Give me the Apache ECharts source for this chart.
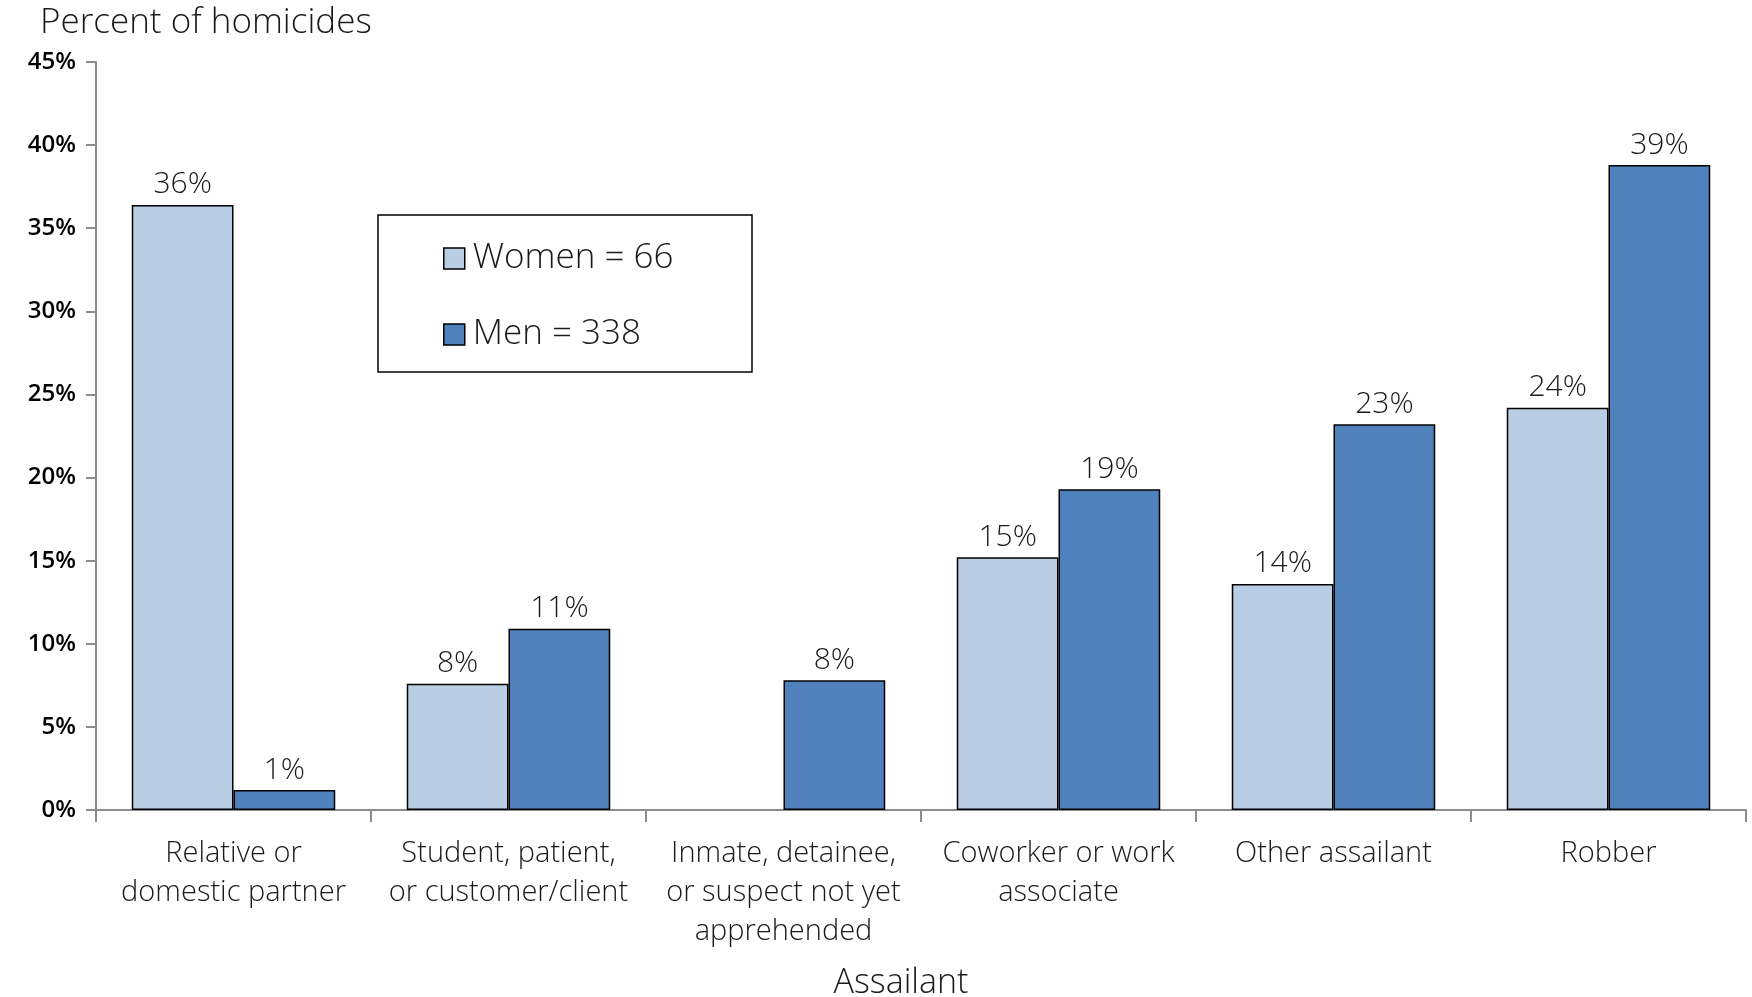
<!DOCTYPE html>
<html>
<head>
<meta charset="utf-8">
<title>Homicides by assailant</title>
<script src="https://cdn.jsdelivr.net/npm/echarts@6/dist/echarts.min.js"></script>
<style>
  html, body { margin: 0; padding: 0; background: #fff; }
  #chart { width: 1752px; height: 997px; }
</style>
</head>
<body>
<div id="chart"></div>
<script>
// Assailant categories (x axis)
const categories = [
  'Relative or\ndomestic partner',
  'Student, patient,\nor customer/client',
  'Inmate, detainee,\nor suspect not yet\napprehended',
  'Coworker or work\nassociate',
  'Other assailant',
  'Robber'
];

// Percent of homicides by assailant type
const womenValues = [36.4, 7.6, null, 15.2, 13.6, 24.2];
const menValues = [1.2, 10.9, 7.8, 19.3, 23.2, 38.8];

// Series names shown in the legend
const womenName = 'Women = 66';
const menName = 'Men = 338';

// Y axis ticks
const yTicks = [0, 5, 10, 15, 20, 25, 30, 35, 40, 45];

const lightFont = '"Open Sans", Lato, "Noto Sans", sans-serif';
const textColor = '#1a1a1a';
const axisGray = '#8c8c8c';

const chart = echarts.init(document.getElementById('chart'));

const barLabel = {
  show: true,
  position: 'top',
  distance: 5,
  fontFamily: lightFont,
  fontWeight: 300,
  fontSize: 30,
  color: textColor,
  formatter: p => (p.value == null ? '' : Math.round(p.value) + '%')
};

chart.setOption({
  animation: false,
  backgroundColor: '#ffffff',
  title: {
    text: 'Percent of homicides',
    left: 40,
    top: 6,
    padding: 0,
    textStyle: {
      fontFamily: lightFont,
      fontWeight: 300,
      fontSize: 35,
      color: textColor
    }
  },
  grid: {
    left: 96,
    right: 6,
    top: 62,
    bottom: 187,
    containLabel: false,
    outerBoundsMode: 'none'
  },
  legend: {
    orient: 'vertical',
    left: 443,
    top: 240,
    padding: 0,
    itemGap: 39,
    itemWidth: 21,
    itemHeight: 21,
    icon: 'rect',
    itemStyle: { borderColor: '#000', borderWidth: 1.5 },
    textStyle: {
      fontFamily: lightFont,
      fontWeight: 300,
      fontSize: 35,
      lineHeight: 37,
      color: textColor,
      padding: [0, 0, 0, 3]
    },
    data: [womenName, menName]
  },
  graphic: [{
    type: 'rect',
    z: 0,
    shape: { x: 378, y: 215, width: 374, height: 157 },
    style: { fill: '#fff', stroke: '#000', lineWidth: 1.5 }
  }],
  xAxis: {
    type: 'category',
    data: categories,
    name: 'Assailant',
    nameLocation: 'middle',
    nameGap: 156,
    nameTextStyle: {
      fontFamily: lightFont,
      fontWeight: 300,
      fontSize: 34,
      color: textColor,
      padding: [0, 40, 0, 0]
    },
    axisLine: { lineStyle: { color: axisGray, width: 2 } },
    axisTick: { show: true, length: 12, lineStyle: { color: axisGray, width: 2 } },
    axisLabel: {
      interval: 0,
      margin: 24,
      fontFamily: lightFont,
      fontWeight: 300,
      fontSize: 29,
      lineHeight: 39,
      color: textColor,
      align: 'center'
    },
    splitLine: { show: false }
  },
  yAxis: {
    type: 'value',
    min: yTicks[0],
    max: yTicks[yTicks.length - 1],
    interval: 5,
    axisLine: { show: true, lineStyle: { color: axisGray, width: 2 } },
    axisTick: { show: true, length: 10, lineStyle: { color: axisGray, width: 2 } },
    axisLabel: {
      margin: 20,
      fontFamily: '"Open Sans", sans-serif',
      fontWeight: 600,
      fontSize: 24,
      color: '#000',
      formatter: v => v + '%'
    },
    splitLine: { show: false }
  },
  series: [
    {
      name: womenName,
      type: 'bar',
      data: womenValues,
      barGap: '0%',
      barCategoryGap: '26%',
      itemStyle: { color: '#B9CDE5', borderColor: '#000', borderWidth: 1.5 },
      label: barLabel
    },
    {
      name: menName,
      type: 'bar',
      data: menValues,
      barGap: '0%',
      barCategoryGap: '26%',
      itemStyle: { color: '#4F81BD', borderColor: '#000', borderWidth: 1.5 },
      label: barLabel
    }
  ]
});
</script>
</body>
</html>
